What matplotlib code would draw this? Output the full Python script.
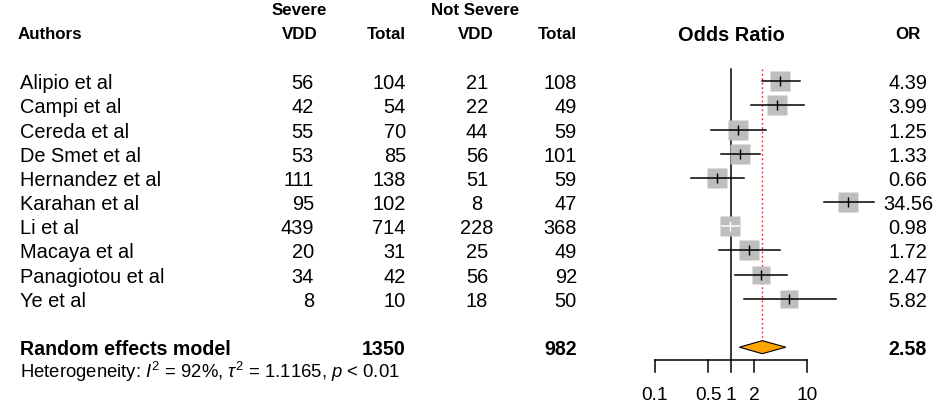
import numpy as np
import matplotlib
matplotlib.use("Agg")
import matplotlib.pyplot as plt
from matplotlib.patches import Polygon

plt.rcParams['font.family'] = ['Liberation Sans', 'DejaVu Sans']
plt.rcParams['mathtext.fontset'] = 'custom'
plt.rcParams['mathtext.rm'] = 'Liberation Sans'
plt.rcParams['mathtext.it'] = 'Liberation Sans:italic'
plt.rcParams['mathtext.bf'] = 'Liberation Sans:bold'

# ---------------- data ----------------
authors = ["Alipio et al", "Campi et al", "Cereda et al", "De Smet et al",
           "Hernandez et al", "Karahan et al", "Li et al", "Macaya et al",
           "Panagiotou et al", "Ye et al"]
severe_vdd = [56, 42, 55, 53, 111, 95, 439, 20, 34, 8]
severe_total = [104, 54, 70, 85, 138, 102, 714, 31, 42, 10]
notsevere_vdd = [21, 22, 44, 56, 51, 8, 228, 25, 56, 18]
notsevere_total = [108, 49, 59, 101, 59, 47, 368, 49, 92, 50]
odds_ratio = [4.39, 3.99, 1.25, 1.33, 0.66, 34.56, 0.98, 1.72, 2.47, 5.82]
ci_low = [2.54, 1.82, 0.55, 0.74, 0.30, 16.9, 0.76, 0.70, 1.14, 1.50]
ci_high = [8.09, 9.14, 2.88, 2.41, 1.50, 76.9, 1.29, 4.41, 5.50, 24.2]
weights = [10.4, 9.6, 9.8, 10.6, 10.0, 10.0, 10.8, 9.6, 9.4, 8.6]
pooled_or = 2.58
pooled_low = 1.29
pooled_high = 5.25
total_severe = 1350
total_notsevere = 982
x_ticks = [0.1, 0.5, 1, 2, 10]
x_ticklabels = ["0.1", "0.5", "1", "2", "10"]
model_label = "Random effects model"
heterogeneity = r"Heterogeneity: $I^2$ = 92%, $\tau^2$ = 1.1165, $p$ < 0.01"

# ---------------- layout ----------------
W, H = 937, 408
ROW0, ROWH = 81.2, 24.18          # pixel centre of first row, row height
PX_DEC, X1 = 76.0, 731.0          # pixels per decade, pixel of OR = 1

def px2row(py):
    return (py - ROW0) / ROWH

fig = plt.figure(figsize=(W / 100, H / 100), dpi=100)
ax = fig.add_axes([0, 0, 1, 1])
ax.set_xlim(0, W)
ax.set_ylim(px2row(H), px2row(0))
ax.axis('off')

L, R = 630, 890
fax = fig.add_axes([L / W, 0, (R - L) / W, 1])
fax.set_xscale('log')
fax.set_xlim(10 ** ((L - X1) / PX_DEC), 10 ** ((R - X1) / PX_DEC))
fax.set_ylim(px2row(H), px2row(0))
fax.axis('off')
fax.patch.set_alpha(0)

FS = 14.4      # main text (pt)
FSH = 12.2     # header
BL = 0.33      # baseline offset (rows) for main text
BLH = 0.27

rows = np.arange(len(authors))
n = len(authors)
sum_row = n + 1
het_row = n + 2

# headers
ax.text(299.5, -3 + BLH, "Severe", ha='center', va='baseline', fontsize=FSH, fontweight='bold')
ax.text(475.5, -3 + BLH, "Not Severe", ha='center', va='baseline', fontsize=FSH, fontweight='bold')
ax.text(18, -2 + BLH, "Authors", ha='left', va='baseline', fontsize=FSH, fontweight='bold')
ax.text(299.5, -2 + BLH, "VDD", ha='center', va='baseline', fontsize=FSH, fontweight='bold')
ax.text(406, -2 + BLH, "Total", ha='right', va='baseline', fontsize=FSH, fontweight='bold')
ax.text(475.5, -2 + BLH, "VDD", ha='center', va='baseline', fontsize=FSH, fontweight='bold')
ax.text(577, -2 + BLH, "Total", ha='right', va='baseline', fontsize=FSH, fontweight='bold')
ax.text(908, -2 + BLH, "OR", ha='center', va='baseline', fontsize=FSH, fontweight='bold')
fax.text(1, -2 + 0.33, "Odds Ratio", ha='center', va='baseline', fontsize=14.4, fontweight='bold')

# study rows
for i in rows:
    y = i + BL
    ax.text(20, y, authors[i], ha='left', va='baseline', fontsize=FS)
    ax.text(314, y, str(severe_vdd[i]), ha='right', va='baseline', fontsize=FS)
    ax.text(406, y, str(severe_total[i]), ha='right', va='baseline', fontsize=FS)
    ax.text(477, y, str(notsevere_vdd[i]), ha='center', va='baseline', fontsize=FS)
    ax.text(577, y, str(notsevere_total[i]), ha='right', va='baseline', fontsize=FS)
    ax.text(908, y, f"{odds_ratio[i]:.2f}", ha='center', va='baseline', fontsize=FS)

# summary row
ax.text(20, sum_row + BL, model_label, ha='left', va='baseline', fontsize=14.1, fontweight='bold')
ax.text(406, sum_row + BL, str(total_severe), ha='right', va='baseline', fontsize=14.1, fontweight='bold')
ax.text(577, sum_row + BL, str(total_notsevere), ha='right', va='baseline', fontsize=14.1, fontweight='bold')
ax.text(908, sum_row + BL, f"{pooled_or:.2f}", ha='center', va='baseline', fontsize=14.1, fontweight='bold')
ax.text(20, het_row + 0.28, heterogeneity, ha='left', va='baseline', fontsize=13.3)

# forest
top = px2row(69)
axis_row = px2row(360)
tick_row = px2row(371.7)
fax.plot([1, 1], [top, axis_row], color='black', lw=1.1, zorder=2)
dh = 6.5 / ROWH
fax.plot([pooled_or, pooled_or], [top, sum_row - dh], color='#d62728', lw=1.0,
         linestyle=(0, (1.2, 2.0)), zorder=2)

wmax = max(weights)
for i in rows:
    side_px = 20.3 * np.sqrt(weights[i] / wmax)
    fax.plot(odds_ratio[i], i, marker='s', ms=side_px * 0.72, color='#BEBEBE',
             mec='none', zorder=3)
    span_px = (np.log10(ci_high[i]) - np.log10(ci_low[i])) * PX_DEC
    col = 'white' if span_px < side_px else 'black'
    fax.plot([ci_low[i], ci_high[i]], [i, i], color=col, lw=1.1, zorder=4)
    fax.plot(odds_ratio[i], i, marker='|', ms=6.5, mew=1.0, color=col, zorder=5)

diamond = Polygon([[pooled_low, sum_row], [pooled_or, sum_row - dh],
                   [pooled_high, sum_row], [pooled_or, sum_row + dh]],
                  closed=True, facecolor='#FFA500', edgecolor='black', lw=0.8, zorder=4)
fax.add_patch(diamond)

# x axis
fax.plot([x_ticks[0], x_ticks[-1]], [axis_row, axis_row], color='black', lw=1.1)
for t, lab in zip(x_ticks, x_ticklabels):
    fax.plot([t, t], [axis_row, tick_row], color='black', lw=1.1)
    fax.text(t, px2row(400), lab, ha='center', va='baseline', fontsize=13.8)

fig.savefig("out.png", dpi=100)
